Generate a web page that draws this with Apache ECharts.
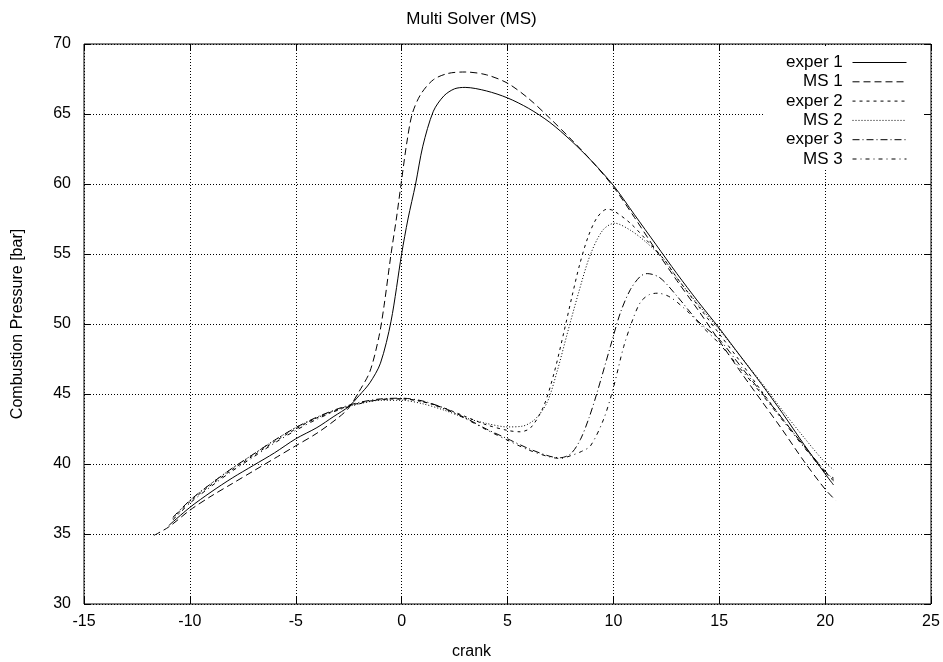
<!DOCTYPE html>
<html>
<head>
<meta charset="utf-8">
<script src="https://cdn.jsdelivr.net/npm/echarts@6/dist/echarts.min.js"></script>
<style>
html,body{margin:0;padding:0;background:#fff;}
#chart{width:943px;height:662px;}
</style>
</head>
<body>
<div id="chart"></div>
<script>
const titleText = 'Multi Solver (MS)';
const xName = 'crank';
const yName = 'Combustion Pressure [bar]';
const seriesNames = ['exper 1', 'MS 1', 'exper 2', 'MS 2', 'exper 3', 'MS 3'];

const exper1 = [[-11.0,35.6],[-10.0,36.9],[-9.0,38.0],[-8.0,39.0],[-7.0,39.9],[-6.0,40.8],[-5.0,41.8],[-4.0,42.6],[-3.2,43.4],[-2.5,44.1],[-2.0,44.9],[-1.5,45.8],[-1.0,47.2],[-0.5,50.2],[0.0,55.0],[0.3,57.5],[0.66,60.0],[1.0,62.7],[1.5,65.2],[2.0,66.3],[2.5,66.8],[3.0,66.9],[4.0,66.65],[5.0,66.15],[6.0,65.4],[7.0,64.4],[8.0,63.1],[9.0,61.6],[10.0,59.9],[11.0,57.8],[12.0,55.7],[13.0,53.6],[14.0,51.6],[15.0,49.7],[16.0,47.7],[17.0,45.7],[18.0,43.6],[19.0,41.4],[20.0,39.3],[20.4,38.5]];
const ms1 = [[-11.7,34.9],[-11.0,35.5],[-10.0,36.7],[-9.0,37.7],[-8.0,38.6],[-7.0,39.5],[-6.0,40.4],[-5.0,41.3],[-4.0,42.2],[-3.0,43.3],[-2.5,44.0],[-2.0,45.2],[-1.5,46.6],[-1.07,49.1],[-0.83,51.3],[-0.5,55.0],[-0.25,57.5],[0.0,60.3],[0.25,63.0],[0.5,65.0],[0.9,66.4],[1.5,67.45],[2.2,67.9],[3.0,68.0],[4.0,67.8],[5.0,67.2],[6.0,66.1],[7.0,64.7],[8.0,63.2],[9.0,61.6],[10.0,59.8],[11.0,57.6],[12.0,55.3],[13.0,53.1],[14.0,51.0],[15.0,48.8],[16.0,46.6],[17.0,44.5],[18.0,42.4],[19.0,40.2],[20.0,38.2],[20.5,37.4]];
const exper2 = [[-10.8,36.1],[-10.0,37.3],[-9.0,38.5],[-8.0,39.6],[-7.0,40.6],[-6.0,41.6],[-5.0,42.5],[-4.0,43.3],[-3.0,43.9],[-2.0,44.35],[-1.0,44.6],[0.0,44.65],[1.0,44.45],[2.0,44.0],[3.0,43.4],[4.0,42.8],[5.0,42.4],[5.6,42.3],[6.1,42.6],[6.7,44.1],[7.2,46.5],[7.66,49.4],[8.05,52.0],[8.4,54.2],[8.8,56.2],[9.23,57.6],[9.7,58.2],[10.0,58.1],[10.8,57.2],[11.5,56.1],[12.4,54.6],[13.0,53.3],[14.0,51.3],[15.0,49.3],[16.0,47.3],[17.0,45.2],[18.0,43.2],[19.0,41.3],[20.0,39.4],[20.4,39.0]];
const ms2 = [[-10.7,36.3],[-10.0,37.4],[-9.0,38.6],[-8.0,39.7],[-7.0,40.7],[-6.0,41.7],[-5.0,42.6],[-4.0,43.3],[-3.0,43.9],[-2.0,44.3],[-1.0,44.55],[0.0,44.55],[1.0,44.3],[2.0,43.85],[3.0,43.3],[4.0,42.9],[5.0,42.65],[5.7,42.7],[6.3,43.2],[6.87,44.4],[7.34,46.6],[7.82,49.3],[8.35,52.2],[8.9,54.9],[9.5,56.7],[10.06,57.2],[10.8,56.7],[11.5,55.9],[12.4,54.6],[13.0,53.3],[14.0,51.4],[15.0,49.6],[16.0,47.7],[17.0,45.8],[18.0,43.8],[19.0,41.9],[20.0,40.1],[20.4,39.6]];
const exper3 = [[-10.8,36.2],[-10.0,37.4],[-9.0,38.6],[-8.0,39.7],[-7.0,40.7],[-6.0,41.7],[-5.0,42.6],[-4.0,43.35],[-3.0,43.95],[-2.0,44.4],[-1.0,44.65],[0.0,44.7],[1.0,44.5],[2.0,44.0],[3.0,43.3],[4.0,42.5],[5.0,41.8],[6.0,41.1],[7.0,40.55],[7.5,40.45],[8.0,40.75],[8.44,41.74],[8.85,43.3],[9.23,45.1],[9.86,48.4],[10.33,50.8],[10.8,52.45],[11.27,53.4],[11.6,53.6],[12.2,53.3],[13.0,52.0],[14.0,50.2],[15.0,48.9],[16.0,47.0],[17.0,45.1],[18.0,43.2],[19.0,41.3],[20.0,39.5],[20.4,38.9]];
const ms3 = [[-10.8,36.0],[-10.0,37.2],[-9.0,38.4],[-8.0,39.5],[-7.0,40.5],[-6.0,41.5],[-5.0,42.4],[-4.0,43.2],[-3.0,43.85],[-2.0,44.3],[-1.0,44.6],[0.0,44.65],[1.0,44.45],[2.0,43.95],[3.0,43.25],[4.0,42.45],[5.0,41.7],[6.0,41.0],[7.0,40.5],[7.5,40.4],[8.0,40.6],[8.5,40.9],[8.92,41.3],[9.54,43.2],[10.01,45.5],[10.49,48.4],[10.96,50.5],[11.3,51.6],[11.7,52.1],[12.1,52.2],[12.7,51.9],[13.5,50.9],[14.2,49.8],[15.0,48.6],[16.0,46.8],[17.0,45.0],[18.0,43.1],[19.0,41.2],[20.0,39.4],[20.4,38.8]];

const seriesData = [exper1, ms1, exper2, ms2, exper3, ms3];
const dashTypes = ['solid', [7,4], [3,4], [1,2], [7,3,1,3], [4,4,1,4]];

const FONT = 'Liberation Sans, Arial, sans-serif';
const chart = echarts.init(document.getElementById('chart'), null, {renderer: 'canvas'});

const series = seriesNames.map((name, i) => ({
  name: name,
  type: 'line',
  data: seriesData[i],
  xAxisIndex: 0,
  yAxisIndex: 0,
  symbol: 'none',
  showSymbol: false,
  smooth: 0.3,
  lineStyle: {color: '#000', width: 1, type: dashTypes[i]},
  itemStyle: {color: '#000'},
  emphasis: {disabled: true},
  silent: true,
  z: 3
}));

const tickStyle = {inside: true, length: 7, lineStyle: {color: '#000', width: 1}};
const gridLine = {show: true, lineStyle: {color: '#000', width: 1, type: [1, 2]}};
const noLine = {show: false, onZero: false};

chart.setOption({
  animation: false,
  backgroundColor: '#fff',
  title: {
    text: titleText, left: 'center', top: 6,
    textStyle: {fontFamily: FONT, fontSize: 17, fontWeight: 'normal', color: '#000'}
  },
  grid: {left: 84, right: 12, top: 44, bottom: 58, show: true, borderColor: '#000', borderWidth: 1, containLabel: false, outerBoundsMode: 'none'},
  legend: {
    data: seriesNames,
    orient: 'vertical',
    align: 'right',
    right: 21,
    top: 46,
    itemWidth: 54,
    itemHeight: 14,
    itemGap: 2.3,
    padding: [8, 15, 2, 23],
    backgroundColor: '#fff',
    formatter: name => name + ' ',
    itemStyle: {opacity: 0, borderWidth: 0},
    lineStyle: {width: 1},
    textStyle: {fontFamily: FONT, fontSize: 17, color: '#000'},
    selectedMode: false
  },
  xAxis: [{
    type: 'value', min: -15, max: 25, interval: 5, position: 'bottom',
    axisLine: noLine, axisTick: tickStyle,
    axisLabel: {color: '#000', fontFamily: FONT, fontSize: 16, margin: 10},
    splitLine: gridLine,
    name: xName, nameLocation: 'middle', nameGap: 40,
    nameTextStyle: {fontFamily: FONT, fontSize: 16, color: '#000', padding: [0, 72, 0, 0]}
  }, {
    type: 'value', min: -15, max: 25, interval: 5, position: 'top',
    axisLine: noLine, axisTick: tickStyle,
    axisLabel: {show: false}, splitLine: {show: false}
  }],
  yAxis: [{
    type: 'value', min: 30, max: 70, interval: 5, position: 'left',
    axisLine: noLine, axisTick: tickStyle,
    axisLabel: {color: '#000', fontFamily: FONT, fontSize: 16, margin: 13},
    splitLine: gridLine,
    name: yName, nameLocation: 'middle', nameGap: 58,
    nameTextStyle: {fontFamily: FONT, fontSize: 16, color: '#000'}
  }, {
    type: 'value', min: 30, max: 70, interval: 5, position: 'right',
    axisLine: noLine, axisTick: tickStyle,
    axisLabel: {show: false}, splitLine: {show: false}
  }],
  series: series
});
</script>
</body>
</html>
